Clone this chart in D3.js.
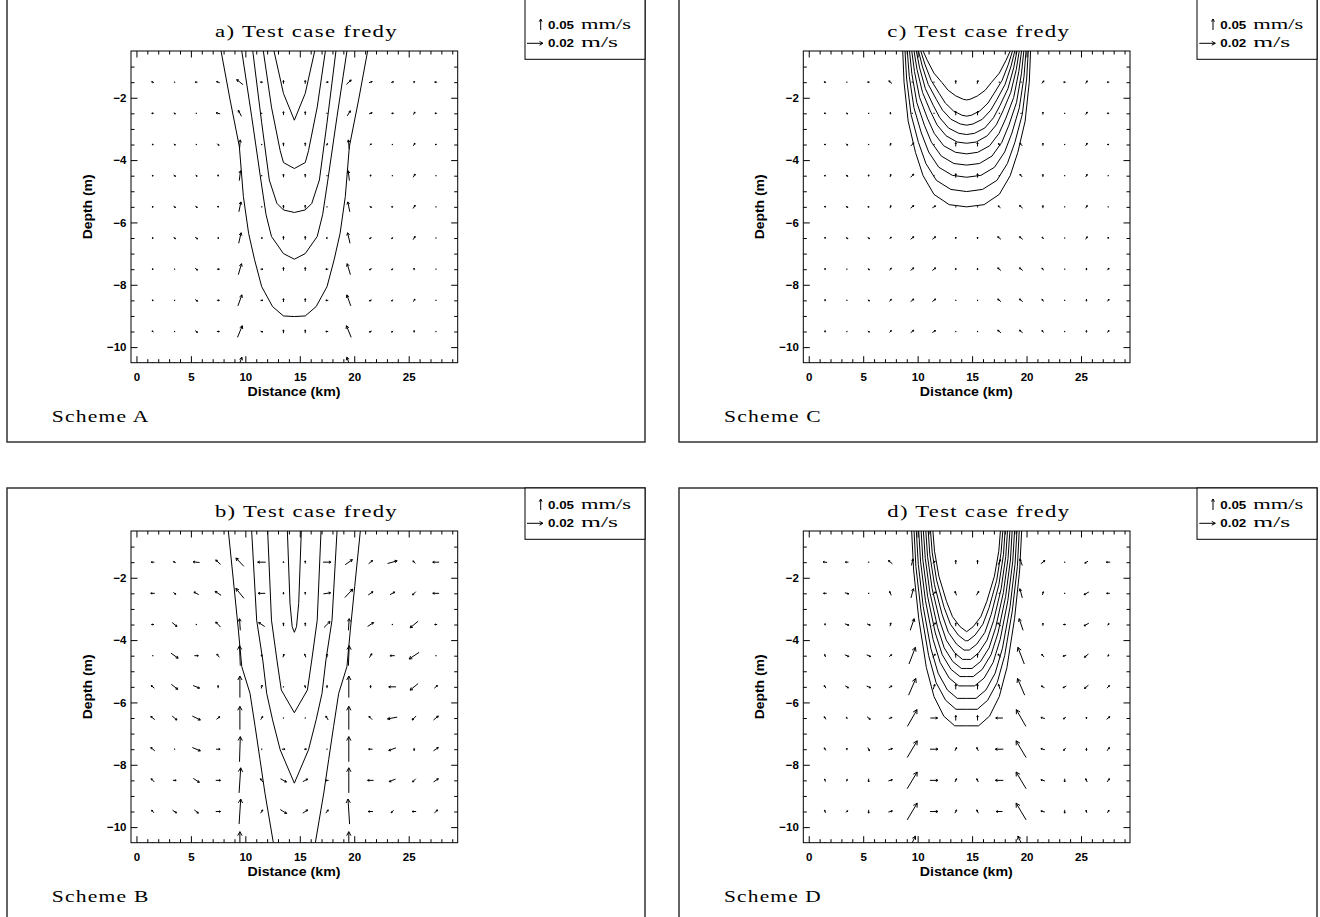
<!DOCTYPE html>
<html><head><meta charset="utf-8">
<script src="https://cdn.jsdelivr.net/npm/d3@7"></script>
<style>
body{margin:0;background:#fff}
svg{display:block}
.tick text{font-family:"Liberation Sans",Arial,sans-serif;font-weight:bold;font-size:11.5px;fill:#000}
.tick line{stroke:#000;stroke-width:1}
</style></head><body>
<svg id="chart" width="1320" height="917"></svg>
<script>
// Grid of velocity vectors: columns (km) and rows (m depth)
const colX = [1.5,3.5,5.5,7.5,9.5,11.5,13.5,15.5,17.5,19.5,21.5,23.5,25.5,27.5];
const rowZ = [-1.5,-2.5,-3.5,-4.5,-5.5,-6.5,-7.5,-8.5,-9.5,-10.5];
const xTicks = [0,5,10,15,20,25];
const yTicks = [-2,-4,-6,-8,-10];
const refW = 50;   // reference vertical velocity, µm/s (0.05 mm/s)
const refU = 20;   // reference horizontal velocity, mm/s (0.02 m/s)
const plumeCenter = 14.5;

// Horizontal velocity u (mm/s) and vertical velocity w (µm/s), rows top to bottom
const uA = [
[-3,0,-3,-4,-8,-3,0,0,3,6,4,3,0,-3],
[-2.5,2,0,-5,-4,0,0,0,0,4,4,2.5,2,-2.5],
[-2,2,0,2,1,0,0,0,1,-1,2,0,2,-2],
[-2,2.5,2,0,1.5,0,0,0,0,-1.5,0,0,2.5,0],
[-2,2.5,2.5,0,2.5,0,0,0,0,-2.5,2.5,-2,2.5,0],
[-2,2.5,3,2,3,2,0,0,-2,-3,-2.5,-2,2.5,0],
[-2,0,3,3,4,3,0,0,-3,-4,-3,-2,0,0],
[-2,0,3,3,5,3,0,0,-3,-5,-3,-2,2,0],
[-2,0,3,3,6,3,0,0,-3,-6,-3,-2,0,0],
[0,0,0,0,5,0,0,0,0,-5,0,0,0,0]];
const wA = [
[3,0,0,5,23,0,15,15,0,20,5,3,9,0],
[0,-5,0,5,27,0,15,15,0,23,5,0,12,0],
[0,-5,0,-8,42,0,15,15,9,42,5,0,12,0],
[0,-6,-5,8,45,0,15,15,0,45,8,0,15,0],
[0,-6,-6,8,45,0,15,15,0,45,-5,0,15,0],
[0,-6,-8,0,48,0,15,15,0,48,-5,-5,15,0],
[0,0,-8,0,50,0,15,15,0,50,-5,-5,9,0],
[0,0,-8,0,50,0,15,15,0,50,-5,-5,12,0],
[5,0,-8,0,53,-3,15,15,0,53,-5,-5,9,0],
[0,0,0,0,50,0,0,0,0,50,0,0,0,0]];

const uB = [
[-4,-3,-8,-6,-10,-10,0,0,10,9,5,12,-3,-8],
[-5,3,-6,-7.5,-10,-9,0,0,9,10,6,6,-4,-8],
[-3,6,0,-6,-1,-7.5,0,0,7.5,1,7.5,0,-10,-3],
[0,9,5,-3,-1,0,1.5,-1.5,0,1,3,-6,-12.5,0],
[-4,8,8,0,0,1,0,-1,0,0,0,-9,-10,4],
[-5,6,10,4,0,2.5,0,0,-3,0,-4,-12,-5,6],
[-5,0,10,5,1,0,4,3,0,0,-5,-9,0,6],
[-4,4,7.5,6,2,-3,7.5,6,-4,0,-7.5,-8,-4,6],
[-3,5,5,6,2,2.5,8,6,3,-2,-6,-3,-5,4],
[0,0,0,0,0,0,0,0,0,0,0,0,0,0]];
const wB = [
[0,5,3,20,38,0,5,12,0,23,15,12,12,0],
[0,-9,12,18,45,0,9,12,5,38,15,12,-15,0],
[0,-18,0,23,53,18,15,15,27,53,18,0,-30,0],
[0,-23,0,15,91,9,15,15,15,91,18,0,-30,0],
[12,-23,-12,12,98,15,0,12,12,98,12,0,-30,12],
[15,-18,-18,12,106,15,0,0,18,106,15,-8,-18,18],
[15,0,-15,0,114,0,0,0,0,114,0,-12,-12,15],
[15,0,-18,0,114,15,-15,12,0,114,0,-12,-15,15],
[12,-12,-15,0,114,15,-18,15,15,114,0,-12,0,15],
[0,0,0,0,100,0,0,0,0,100,0,0,0,0]];

const uC = [
[-2.5,0,-2.5,-4,0,0,0,1,0,0,2.5,-2.5,2,-2.5],
[-2.5,2,0,0,0,0,0,0,0,0,0,0,2,-2.5],
[-2,2.5,0,1,4,0,0,0,-2.5,-3,0,0,2,-2],
[-2,2.5,0,1,4,0,0,0,0,-3,0,0,2,0],
[0,2.5,-2,1,4,4,0,0,-3,-4,0,0,2,0],
[0,2.5,2.5,2,4,4,0,0,-4,-4,-2,0,2,0],
[0,0,2,2.5,4,4,0,0,-4,-4,-2.5,0,0,2],
[0,0,2,2.5,4,4,0,0,-4,-4,-2.5,0,0,2],
[0,0,2,2.5,4,4,0,0,-4,-4,-2.5,0,0,2],
[0,0,0,0,0,0,0,0,0,0,0,0,0,0]];
const wC = [
[3,0,0,12,0,0,15,15,0,0,12,0,12,0],
[0,-5,0,9,0,0,18,18,0,0,12,0,12,0],
[0,-6,0,12,15,0,18,18,9,12,12,0,12,0],
[0,-6,8,12,15,0,18,18,0,12,12,0,12,0],
[8,-6,0,12,12,9,0,0,9,12,12,0,12,0],
[8,-6,-6,9,12,12,9,9,12,12,9,0,12,8],
[8,0,-5,9,12,12,8,8,12,12,9,0,9,9],
[8,0,-5,9,12,12,0,0,12,12,9,0,9,9],
[8,0,-5,9,12,9,0,0,12,12,9,0,9,9],
[0,0,0,0,0,0,0,0,0,0,0,0,0,0]];

const uD = [
[-5,-4,0,-5,2,3,0,0,3,-3,5,0,-4,-5],
[-4,5,0,-2,3,4,-2,3,0,-3,1,0,-6,-4],
[0,5,4,1,5,4,0,0,-4,-5,0,-3,-6,2],
[-1,5,5,3,8,3,0,0,-3,-8,-3,-4,-5,1],
[-2,4,5,4,9,2,0,0,-2,-9,-4,-4,-5,3],
[-2,-1,4,4,12,9,0,0,-9,-12,-5,-3,0,4],
[-2,0,2,5,12.5,10,2,-2,-10,-12.5,-5,-2.5,0,3],
[-1,1,0,5,12.5,10,2,-2,-10,-12.5,-5,0,-2,3],
[-1,2,0,5,12.5,10,2,-2,-8,-12.5,-5,0,-1,2],
[0,0,0,0,8,0,0,0,0,-8,0,0,0,0]];
const wD = [
[3,0,0,15,30,8,18,18,23,30,15,0,-9,0],
[0,-5,0,18,42,12,18,18,0,42,15,0,-12,0],
[8,-6,-6,15,53,15,15,15,15,53,12,0,-12,8],
[12,-8,-8,9,76,15,18,18,15,76,12,-5,-15,9],
[12,-9,-8,8,76,23,23,23,23,76,8,-8,-15,12],
[12,8,-12,5,76,0,23,23,0,76,5,-8,9,12],
[12,9,-15,5,76,0,15,15,0,76,5,-12,-12,15],
[12,9,-15,5,76,0,15,15,0,76,5,-15,15,15],
[12,8,-15,5,76,0,15,15,0,76,5,-15,12,12],
[0,0,0,0,60,0,0,0,0,60,0,0,0,0]];

// Tracer isolines: depth (m) and half-width (km) about the plume axis
const contA = [
 {d:[-0.5,-2.07,-3.57,-5.17,-6.35,-7.2,-8.06,-8.7,-9.0,-9.02], hw:[6.73,5.9,5.05,4.68,4.2,3.65,3.0,2.0,1.0,0]},
 {d:[-0.5,-2.6,-4.7,-5.75,-6.45,-7.0,-7.18], hw:[4.83,3.92,3.05,2.6,2.1,1.0,0]},
 {d:[-0.5,-2.8,-4.64,-5.39,-5.6,-5.68], hw:[3.82,3.0,2.3,1.6,1.0,0]},
 {d:[-0.5,-2.3,-3.7,-4.08,-4.27], hw:[2.85,2.1,1.3,1.0,0]},
 {d:[-0.5,-1.86,-2.72], hw:[1.87,1.0,0]}];
const contB = [
 {d:[-0.5,-2.29,-3.68,-4.85,-5.71,-6.78,-7.84,-8.91,-10.5], hw:[6.06,5.54,5.14,4.83,4.07,3.6,3.15,2.7,1.93]},
 {d:[-0.5,-3.36,-4.64,-5.71,-6.56,-7.52,-8.59], hw:[3.92,3.46,2.9,2.54,2.0,1.3,0]},
 {d:[-0.5,-3.36,-4.64,-5.6,-6.33], hw:[2.45,2.1,1.6,1.2,0]},
 {d:[-0.5,-2.82,-3.57,-3.75], hw:[0.64,0.4,0.2,0]}];
const contC = [
 {d:[-0.5,-1.5,-2.75,-3.75,-4.5,-5.1,-5.43,-5.5], hw:[5.87,5.75,5.37,4.7,4.0,3.0,1.6,0]},
 {d:[-0.5,-1.4,-2.53,-3.43,-4.11,-4.65,-4.94,-5.01], hw:[5.66,5.51,5.11,4.43,3.74,2.78,1.46,0]},
 {d:[-0.5,-1.31,-2.32,-3.13,-3.74,-4.23,-4.49,-4.55], hw:[5.45,5.27,4.84,4.16,3.49,2.56,1.31,0]},
 {d:[-0.5,-1.23,-2.15,-2.88,-3.43,-3.87,-4.11,-4.16], hw:[5.25,5.03,4.58,3.88,3.23,2.33,1.17,0]},
 {d:[-0.5,-1.16,-1.99,-2.65,-3.14,-3.54,-3.75,-3.8], hw:[5.04,4.79,4.32,3.61,2.98,2.11,1.02,0]},
 {d:[-0.5,-1.09,-1.83,-2.42,-2.87,-3.22,-3.42,-3.46], hw:[4.83,4.56,4.05,3.34,2.72,1.89,0.88,0]},
 {d:[-0.5,-1.04,-1.71,-2.24,-2.64,-2.97,-3.14,-3.18], hw:[4.62,4.32,3.79,3.07,2.47,1.67,0.73,0]},
 {d:[-0.5,-0.98,-1.57,-2.05,-2.4,-2.69,-2.84,-2.88], hw:[4.42,4.08,3.53,2.79,2.21,1.44,0.59,0]},
 {d:[-0.5,-0.92,-1.44,-1.86,-2.17,-2.42,-2.56,-2.59], hw:[4.21,3.84,3.26,2.52,1.96,1.22,0.44,0]},
 {d:[-0.5,-0.81,-1.21,-1.52,-1.76,-1.94,-2.05,-2.07], hw:[4.0,3.6,3.0,2.25,1.7,1.0,0.3,0]}];
const contD = [
 {d:[-0.5,-1.75,-3.31,-4.88,-5.81,-6.44,-6.75,-6.75], hw:[5.05,4.87,4.4,3.7,3.0,2.1,1.1,0]},
 {d:[-0.5,-1.64,-3.07,-4.5,-5.36,-5.93,-6.22,-6.22], hw:[4.83,4.66,4.19,3.49,2.81,1.93,0.98,0]},
 {d:[-0.5,-1.57,-2.92,-4.26,-5.06,-5.6,-5.87,-5.87], hw:[4.62,4.44,3.99,3.29,2.62,1.77,0.86,0]},
 {d:[-0.5,-1.49,-2.74,-3.98,-4.72,-5.22,-5.47,-5.47], hw:[4.4,4.23,3.78,3.08,2.43,1.6,0.73,0]},
 {d:[-0.5,-1.43,-2.6,-3.77,-4.47,-4.94,-5.17,-5.17], hw:[4.18,4.02,3.58,2.88,2.24,1.43,0.61,0]},
 {d:[-0.5,-1.38,-2.48,-3.59,-4.25,-4.69,-4.91,-4.91], hw:[3.97,3.8,3.37,2.67,2.06,1.27,0.49,0]},
 {d:[-0.5,-1.32,-2.35,-3.38,-4.0,-4.41,-4.62,-4.62], hw:[3.75,3.59,3.17,2.47,1.87,1.1,0.37,0]},
 {d:[-0.5,-1.26,-2.22,-3.17,-3.75,-4.13,-4.32,-4.32], hw:[3.53,3.38,2.96,2.26,1.68,0.93,0.24,0]},
 {d:[-0.5,-1.2,-2.08,-2.96,-3.49,-3.84,-4.02,-4.02], hw:[3.32,3.16,2.76,2.06,1.49,0.77,0.12,0]},
 {d:[-0.5,-1.15,-1.95,-2.76,-3.25,-3.57,-3.73], hw:[3.1,2.95,2.55,1.85,1.3,0.6,0]}];

const panels = [
 {title:"a) Test case fredy", scheme:"Scheme A", u:uA, w:wA, cont:contA, fx:7,   fy:-2,  px:131,   py:51},
 {title:"b) Test case fredy", scheme:"Scheme B", u:uB, w:wB, cont:contB, fx:7,   fy:488, px:131,   py:531},
 {title:"c) Test case fredy", scheme:"Scheme C", u:uC, w:wC, cont:contC, fx:679, fy:-2,  px:803.3, py:51},
 {title:"d) Test case fredy", scheme:"Scheme D", u:uD, w:wD, cont:contD, fx:679, fy:488, px:803.3, py:531}
];

const W = 326.7, H = 311.7;
const pxPerU = 16 / refU;   // px per mm/s
const pxPerW = 11 / refW;   // px per µm/s
const svg = d3.select("#chart");
const serif = '"Liberation Serif","Times New Roman",serif';
const sans = '"Liberation Sans",Arial,sans-serif';
const tickFmt = v => (v < 0 ? "\u2212" : "") + Math.abs(v);

function arrowPath(cx, cy, dx, dy) {
  const len = Math.hypot(dx, dy);
  const x0 = cx - dx/2, y0 = cy + dy/2, x1 = cx + dx/2, y1 = cy - dy/2;
  const ang = Math.atan2(y1 - y0, x1 - x0);
  const h = Math.min(4.5, 0.8 + 0.2 * len);
  const a1 = ang + Math.PI - 0.5, a2 = ang + Math.PI + 0.5;
  return `M${x0},${y0}L${x1},${y1}M${x1 + h*Math.cos(a1)},${y1 + h*Math.sin(a1)}L${x1},${y1}L${x1 + h*Math.cos(a2)},${y1 + h*Math.sin(a2)}`;
}

panels.forEach((p, pi) => {
  const g = svg.append("g");
  const x = d3.scaleLinear().domain([-0.5, 29.5]).range([p.px, p.px + W]);
  const y = d3.scaleLinear().domain([-10.5, -0.5]).range([p.py + H, p.py]);

  // outer frame
  g.append("rect").attr("x", p.fx).attr("y", p.fy).attr("width", 638).attr("height", 444)
    .attr("fill", "none").attr("stroke", "#333").attr("stroke-width", 1.5);

  // legend box with reference vectors
  const lg = g.append("g");
  lg.append("rect").attr("x", p.fx + 518).attr("y", p.fy).attr("width", 120).attr("height", p.py + 8.3 - p.fy)
    .attr("fill", "#fff").attr("stroke", "#000").attr("stroke-width", 1);
  lg.append("path").attr("d", arrowPath(p.px + 409.7, p.py - 26.5, 0, refW * pxPerW))
    .attr("fill", "none").attr("stroke", "#000").attr("stroke-width", 1);
  lg.append("path").attr("d", arrowPath(p.px + 404, p.py - 7.7, refU * pxPerU, 0))
    .attr("fill", "none").attr("stroke", "#000").attr("stroke-width", 1);
  const legRows = [["0.05", "mm/s", p.py - 22.5, 50], ["0.02", "m/s", p.py - 4.5, 37]];
  legRows.forEach(r => {
    lg.append("text").attr("x", p.px + 417).attr("y", r[2]).attr("font-family", sans)
      .attr("font-weight", "bold").attr("font-size", 11.5).attr("textLength", 26).attr("lengthAdjust", "spacingAndGlyphs").text(r[0]);
    lg.append("text").attr("x", p.px + 450).attr("y", r[2]).attr("font-family", serif)
      .attr("font-size", 14).attr("textLength", r[3]).attr("lengthAdjust", "spacingAndGlyphs").text(r[1]);
  });

  // title and scheme label
  g.append("text").attr("x", p.px + 84).attr("y", p.py - 14.3).attr("font-family", serif)
    .attr("font-size", 17.5).attr("letter-spacing", 1).attr("textLength", 183).attr("lengthAdjust", "spacingAndGlyphs").text(p.title);
  g.append("text").attr("x", p.px - 79.3).attr("y", p.py + 370.7).attr("font-family", serif)
    .attr("font-size", 17.5).attr("letter-spacing", 1).attr("textLength", 98).attr("lengthAdjust", "spacingAndGlyphs").text(p.scheme);

  // clipped plotting area
  const clipId = "clip" + pi;
  g.append("clipPath").attr("id", clipId).append("rect")
    .attr("x", p.px).attr("y", p.py).attr("width", W).attr("height", H);
  const area = g.append("g").attr("clip-path", `url(#${clipId})`);

  // isolines
  const line = d3.line().x(q => x(q[0])).y(q => y(q[1]));
  p.cont.forEach(c => {
    const left = c.d.map((dd, i) => [plumeCenter - c.hw[i], dd]);
    const right = c.d.map((dd, i) => [plumeCenter + c.hw[i], dd]).reverse();
    const closed = c.hw[c.hw.length - 1] === 0;
    const segs = closed ? [left.concat(right.slice(1))] : [left, right];
    segs.forEach(s => area.append("path").attr("d", line(s)).attr("fill", "none")
      .attr("stroke", "#000").attr("stroke-width", 1));
  });

  // velocity vectors
  rowZ.forEach((z, ri) => colX.forEach((cx, ci) => {
    const dx = p.u[ri][ci] * pxPerU, dy = p.w[ri][ci] * pxPerW;
    if (Math.hypot(dx, dy) < 1) {
      area.append("rect").attr("x", x(cx) - 0.6).attr("y", y(z) - 0.6).attr("width", 1.2).attr("height", 1.2).attr("fill", "#000");
    } else {
      area.append("path").attr("d", arrowPath(x(cx), y(z), dx, dy))
        .attr("fill", "none").attr("stroke", "#000").attr("stroke-width", 1);
    }
  }));

  // axes with inward ticks on all four sides
  const xMinor = d3.range(0, 30).filter(v => v % 5 !== 0);
  const yMinor = d3.range(-10.5, -0.5, 0.5).filter(v => v % 2 !== 0 && v > -10.5);
  const ax = (gen, tr, vals, len, labels, pad) => {
    const a = g.append("g").attr("transform", tr)
      .call(gen.tickValues(vals).tickSizeInner(-len).tickSizeOuter(0).tickPadding(pad || 3)
        .tickFormat(labels ? tickFmt : () => ""));
    a.select(".domain").remove();
    return a;
  };
  ax(d3.axisBottom(x), `translate(0,${p.py + H})`, xTicks, 6.5, true, 10);
  ax(d3.axisBottom(x), `translate(0,${p.py + H})`, xMinor, 3.5, false);
  ax(d3.axisTop(x), `translate(0,${p.py})`, xTicks, 6.5, false);
  ax(d3.axisTop(x), `translate(0,${p.py})`, xMinor, 3.5, false);
  ax(d3.axisLeft(y), `translate(${p.px},0)`, yTicks, 6.5, true, 4.5);
  ax(d3.axisLeft(y), `translate(${p.px},0)`, yMinor, 3.5, false);
  ax(d3.axisRight(y), `translate(${p.px + W},0)`, yTicks, 6.5, false);
  ax(d3.axisRight(y), `translate(${p.px + W},0)`, yMinor, 3.5, false);

  g.append("rect").attr("x", p.px).attr("y", p.py).attr("width", W).attr("height", H)
    .attr("fill", "none").attr("stroke", "#000").attr("stroke-width", 1);

  // axis titles
  g.append("text").attr("x", p.px + 163).attr("y", p.py + H + 33).attr("text-anchor", "middle")
    .attr("font-family", sans).attr("font-weight", "bold").attr("font-size", 12)
    .attr("textLength", 93).attr("lengthAdjust", "spacingAndGlyphs").text("Distance (km)");
  g.append("text").attr("transform", `translate(${p.px - 39.5},${p.py + H / 2}) rotate(-90)`)
    .attr("text-anchor", "middle").attr("font-family", sans).attr("font-weight", "bold").attr("font-size", 12)
    .attr("textLength", 65).attr("lengthAdjust", "spacingAndGlyphs").text("Depth (m)");
});
</script></body></html>
